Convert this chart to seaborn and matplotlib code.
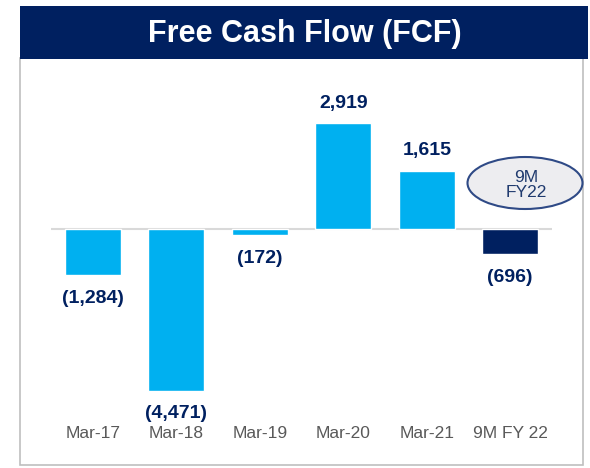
import matplotlib
matplotlib.use("Agg")
import matplotlib.pyplot as plt
from matplotlib.patches import Rectangle, Ellipse
import seaborn as sns
import pandas as pd

categories = ["Mar-17", "Mar-18", "Mar-19", "Mar-20", "Mar-21", "9M FY 22"]
values = [-1284, -4471, -172, 2919, 1615, -696]
labels = ["(1,284)", "(4,471)", "(172)", "2,919", "1,615", "(696)"]
bar_colors = ["#00B0F0", "#00B0F0", "#00B0F0", "#00B0F0", "#00B0F0", "#002060"]

sns.set_style("white")
plt.rcParams["font.family"] = ["Liberation Sans", "DejaVu Sans"]

W, H = 590, 468
fig = plt.figure(figsize=(W / 100, H / 100), dpi=100)

def fx(px):
    return px / W

def fy(py):
    return 1 - py / H

# outer box border
fig.patches.append(Rectangle((fx(20), fy(465)), fx(583) - fx(20), fy(58) - fy(465),
                             transform=fig.transFigure, fill=False,
                             edgecolor="#BFBFBF", linewidth=1.2, zorder=0))
# title banner
fig.patches.append(Rectangle((fx(20), fy(59)), fx(588) - fx(20), fy(6) - fy(59),
                             transform=fig.transFigure, facecolor="#002060",
                             edgecolor="none", zorder=1))
fig.text(fx(305), fy(34), "Free Cash Flow (FCF)", color="white", fontsize=22,
         fontweight="bold", ha="center", va="center")

ax_top, ax_bot = 62, 420
ax = fig.add_axes([fx(51), fy(ax_bot), fx(552) - fx(51), fy(ax_top) - fy(ax_bot)])
ax.patch.set_alpha(0)

df = pd.DataFrame({"cat": categories, "val": values})
sns.barplot(data=df, x="cat", y="val", hue="cat", palette=bar_colors,
            legend=False, width=0.67, ax=ax, saturation=1)

zero_px = 229
scale = 0.0362  # px per unit
ax.set_ylim(-(ax_bot - zero_px) / scale, (zero_px - ax_top) / scale)
ax.set_xlim(-0.5, 5.5)
ax.axhline(0, color="#D9D9D9", linewidth=1.5, zorder=0)

for i, (v, lab) in enumerate(zip(values, labels)):
    off = 20 / scale if v >= 0 else -23 / scale
    ax.text(i, v + off, lab, ha="center", va="center", fontsize=14,
            fontweight="bold", color="#002060")

for s in ax.spines.values():
    s.set_visible(False)
ax.set_yticks([])
ax.set_xlabel("")
ax.set_ylabel("")
ax.tick_params(axis="x", length=0, pad=4, labelsize=12.5, labelcolor="#595959")

# ellipse annotation
fig.patches.append(Ellipse((fx(525), fy(183)), fx(115), 52 / H,
                           transform=fig.transFigure, facecolor="#EDEDF0",
                           edgecolor="#2F4A86", linewidth=1.5, zorder=3))
fig.text(fx(526), fy(185), "9M\nFY22", ha="center", va="center", fontsize=12.5,
         color="#1F3A6E", linespacing=1.05, zorder=4)

fig.savefig("out.png", dpi=100)
